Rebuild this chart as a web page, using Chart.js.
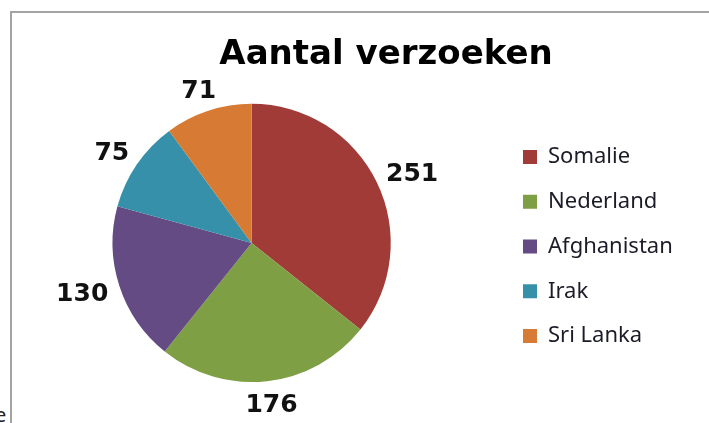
<!DOCTYPE html>
<html>
<head>
<meta charset="utf-8">
<script src="https://cdn.jsdelivr.net/npm/chart.js@4/dist/chart.umd.min.js"></script>
<style>
  html, body { margin: 0; padding: 0; width: 709px; height: 423px; overflow: hidden; background: #ffffff; position: relative; }
  #frame { position: absolute; left: 10px; top: 11px; width: 800px; height: 500px; border-top: 2px solid #a3a3a3; border-left: 2px solid #a3a3a3; box-sizing: border-box; }
  #wrap { position: absolute; left: 0; top: 13px; width: 769px; height: 410px; }
  #stray { position: absolute; left: -5px; top: 401px; font: 20px "Noto Sans", sans-serif; color: #222; }
</style>
</head>
<body>
<div id="frame"></div>
<div id="stray">e</div>
<div id="wrap"><canvas id="c" width="769" height="410"></canvas></div>
<script>
const chartTitle = 'Aantal verzoeken';
const categories = ['Somalie', 'Nederland', 'Afghanistan', 'Irak', 'Sri Lanka'];
const values = [251, 176, 130, 75, 71];
const colors = ['#a03b38', '#7f9f45', '#654b83', '#3690a9', '#d77a33'];

const LEGEND_W = 268.75;

const legendWidthPlugin = {
  id: 'legendWidth',
  beforeUpdate(chart) {
    const lg = chart.legend;
    if (lg && !lg._widthPatched) {
      const orig = lg.fit;
      lg.fit = function () { orig.call(this); this.width = LEGEND_W; };
      lg._widthPatched = true;
    }
  }
};

const outsideLabels = {
  id: 'outsideLabels',
  afterDatasetsDraw(chart) {
    const ctx = chart.ctx;
    const meta = chart.getDatasetMeta(0);
    ctx.save();
    ctx.font = 'bold 25px "DejaVu Sans"';
    ctx.fillStyle = '#111111';
    ctx.textAlign = 'center';
    ctx.textBaseline = 'middle';
    const pad = 13, h = 19;
    meta.data.forEach((arc, i) => {
      const p = arc.getProps(['x', 'y', 'startAngle', 'endAngle', 'outerRadius'], true);
      const mid = (p.startAngle + p.endAngle) / 2;
      const ux = Math.cos(mid), uy = Math.sin(mid);
      const text = String(values[i]);
      const w = ctx.measureText(text).width;
      const cx = p.x + ux * (p.outerRadius + pad) + ux * w / 2;
      const cy = p.y + uy * (p.outerRadius + pad) + uy * h / 2;
      ctx.fillText(text, cx, cy + 2);
    });
    ctx.restore();
  }
};

new Chart(document.getElementById('c'), {
  type: 'pie',
  data: {
    labels: categories,
    datasets: [{
      data: values,
      backgroundColor: colors,
      borderWidth: 0
    }]
  },
  options: {
    responsive: false,
    animation: false,
    layout: { padding: { left: 3, right: 0, top: 0, bottom: 41 } },
    plugins: {
      tooltip: { enabled: false },
      title: {
        display: true,
        text: chartTitle,
        color: '#000000',
        font: { family: '"DejaVu Sans"', size: 34, weight: 'bold' },
        padding: { top: 22, bottom: 28 }
      },
      legend: {
        position: 'right',
        align: 'center',
        fullSize: false,
        title: { display: true, text: ' ', font: { size: 1 }, padding: { top: 6, bottom: 0 } },
        labels: {
          boxWidth: 14,
          boxHeight: 14,
          padding: 22.75,
          color: '#1c1c28',
          font: { family: '"Noto Sans"', size: 22 }
        }
      }
    }
  },
  plugins: [legendWidthPlugin, outsideLabels]
});
</script>
</body>
</html>
